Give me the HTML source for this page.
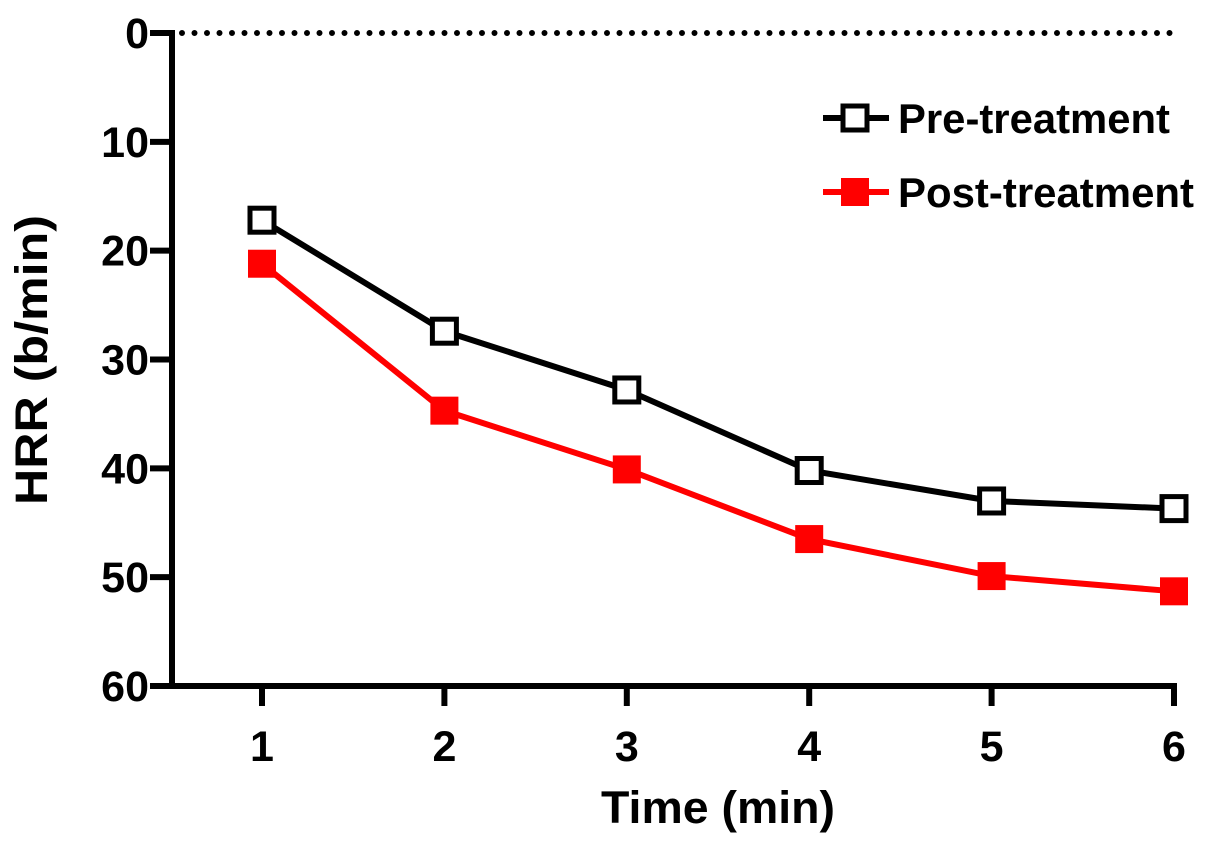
<!DOCTYPE html>
<html><head><meta charset="utf-8"><style>
html,body{margin:0;padding:0;background:#fff;}
svg{display:block;font-family:"Liberation Sans",Arial,sans-serif;font-weight:bold;}
</style></head><body>
<svg id="chart" width="1205" height="849" viewBox="0 0 1205 849">
<g id="axes"></g><g id="series"></g>
<g>
 <g>
  <line x1="823" y1="118" x2="889" y2="118" stroke="#000" stroke-width="6"/>
  <rect x="843" y="106" width="24" height="24" fill="#fff" stroke="#000" stroke-width="5"/>
  <text x="898" y="133" font-size="42" fill="#000" textLength="272" lengthAdjust="spacingAndGlyphs">Pre-treatment</text>
 </g>
 <g>
  <line x1="823" y1="192" x2="889" y2="192" stroke="#f00" stroke-width="6"/>
  <rect x="841" y="178" width="28" height="28" fill="#f00"/>
  <text x="898" y="207" font-size="42" fill="#000" textLength="296" lengthAdjust="spacingAndGlyphs">Post-treatment</text>
 </g>
</g>
</svg>
<script>
const categories=[1,2,3,4,5,6];
const preValues=[17.2,27.4,32.8,40.2,43.0,43.7];
const postValues=[21.2,34.7,40.1,46.5,49.9,51.3];
const yTicks=[0,10,20,30,40,50,60];
const NS="http://www.w3.org/2000/svg";
const X0=262,X1=1174,Y0=33,Y1=686;
function xs(v){return X0+(v-1)*(X1-X0)/5;}
function ys(v){return Y0+v*(Y1-Y0)/60;}
function mk(tag,attrs,parent,txt){const e=document.createElementNS(NS,tag);for(const k in attrs)e.setAttribute(k,attrs[k]);if(txt!==undefined)e.textContent=txt;parent.appendChild(e);return e;}
const ax=document.getElementById('axes');
let e;
e=mk('line',{x1:182,y1:ys(0),x2:1176,y2:ys(0),stroke:'#000','stroke-width':6,'stroke-dasharray':'0 12.5','stroke-linecap':'round'},ax);


e=mk('line',{x1:172,y1:ys(0)-3,x2:172,y2:Y1+3,stroke:'#000','stroke-width':6},ax);


e=mk('line',{x1:169,y1:Y1,x2:1177,y2:Y1,stroke:'#000','stroke-width':6},ax);


yTicks.forEach(t=>{
 e=mk('line',{x1:150,y1:ys(t),x2:172,y2:ys(t),stroke:'#000','stroke-width':6},ax);
 
 
 e=mk('text',{x:149,y:ys(t)+15,'font-size':43,'text-anchor':'end'},ax,String(t));
 
 
});
categories.forEach(c=>{
 e=mk('line',{x1:xs(c),y1:Y1,x2:xs(c),y2:Y1+20,stroke:'#000','stroke-width':6},ax);
 
 
 e=mk('text',{x:xs(c),y:761,'font-size':43,'text-anchor':'middle'},ax,String(c));
 
 
});
e=mk('text',{x:718,y:823,'font-size':45,'text-anchor':'middle',textLength:234,lengthAdjust:'spacingAndGlyphs'},ax,'Time (min)');


e=mk('text',{x:0,y:0,'font-size':45,'text-anchor':'middle',textLength:290,lengthAdjust:'spacingAndGlyphs',transform:'translate(47,360) rotate(-90)'},ax,'HRR (b/min)');


const sg=document.getElementById('series');
function drawSeries(vals,color,filled,name){
 const g=mk('g',{},sg);
 
 
 const pts=vals.map((v,i)=>xs(categories[i])+','+ys(v)).join(' ');
 e=mk('polyline',{points:pts,fill:'none',stroke:color,'stroke-width':6},g);
 
 
 vals.forEach((v,i)=>{
  const x=xs(categories[i]),y=ys(v);
  if(filled) e=mk('rect',{x:x-14,y:y-14,width:28,height:28,fill:color},g);
  else e=mk('rect',{x:x-12,y:y-12,width:24,height:24,fill:'#fff',stroke:color,'stroke-width':5},g);
  
  
 });
}
drawSeries(preValues,'#000',false,'pre-treatment-series');
drawSeries(postValues,'#f00',true,'post-treatment-series');
</script>
</body></html>
